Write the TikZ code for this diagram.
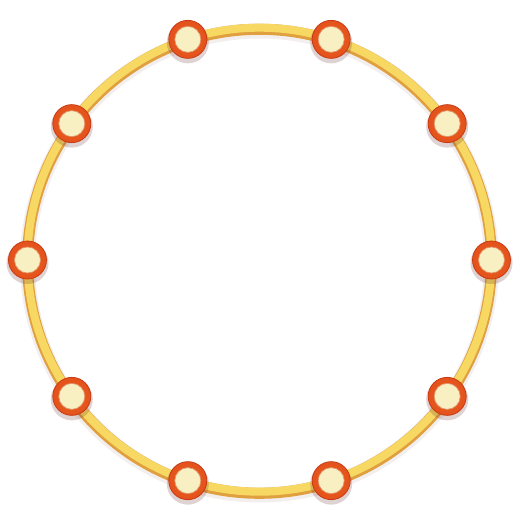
\documentclass[tikz,border=0pt]{standalone}
\usetikzlibrary{shadings,calc}
\definecolor{ringY}{HTML}{F6D863}
\definecolor{ringO}{HTML}{E0A040}
\definecolor{beadR}{HTML}{E4521E}
\definecolor{beadRd}{HTML}{C83A12}
\definecolor{beadC}{HTML}{F8F0C2}
\definecolor{shad}{HTML}{6A3030}
\tikzset{
  beadshadow/.style={circle, fill=shad, opacity=0.22, minimum size=42pt, inner sep=0pt},
  beadouter/.style={circle, inner sep=0pt, minimum size=38pt, draw=beadRd, line width=0.8pt,
     shade, shading=radial, inner color=beadR!75!orange, outer color=beadR},
  beadinner/.style={circle, inner sep=0pt, minimum size=26pt, fill=beadC, draw=beadRd!50!beadC, line width=0.7pt},
}
\begin{document}
\begin{tikzpicture}[x=1pt,y=1pt]
\useasboundingbox (-260,-260) rectangle (260,260);
\coordinate (c) at (-0.5,0);
% ring
\draw[line width=15pt, shad, opacity=0.08] ([yshift=-3pt]c) circle (232);
\draw[line width=11pt, ringO] ([yshift=-1.3pt]c) circle (232);
\draw[line width=8pt, ringY] ([yshift=0.3pt]c) circle (232);
% beads
\foreach \i in {0,...,9}{
  \pgfmathsetmacro{\a}{36*\i}
  \node[beadshadow] at ($(c)+(\a:232)+(0,-3)$) {};
}
\foreach \i in {0,...,9}{
  \pgfmathsetmacro{\a}{36*\i}
  \node[beadouter] (b\i) at ($(c)+(\a:232)$) {};
  \node[beadinner] (i\i) at (b\i) {};
}
\end{tikzpicture}
\end{document}
